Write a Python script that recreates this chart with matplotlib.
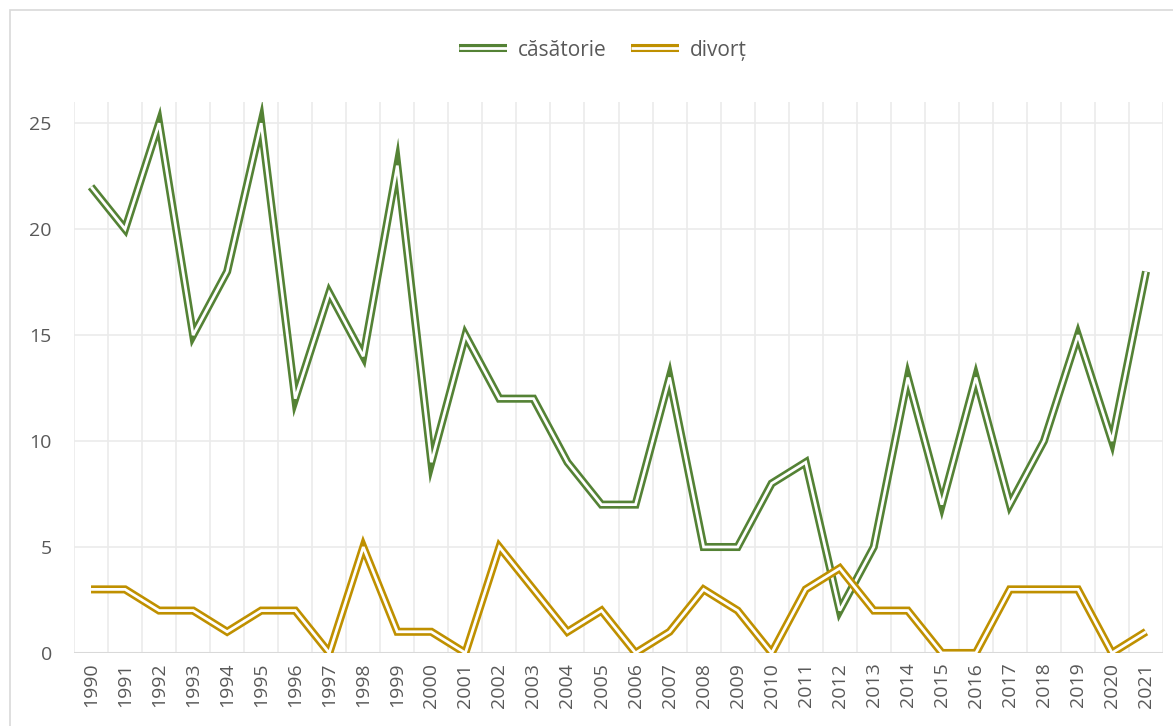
import matplotlib.pyplot as plt
from matplotlib.patches import Rectangle

years = [str(y) for y in range(1990, 2022)]
casatorie = [22, 20, 25, 15, 18, 25, 12, 17, 14, 23, 9, 15, 12, 12, 9, 7,
             7, 13, 5, 5, 8, 9, 2, 5, 13, 7, 13, 7, 10, 15, 10, 18]
divort = [3, 3, 2, 2, 1, 2, 2, 0, 5, 1, 1, 0, 5, 3, 1, 2,
          0, 1, 3, 2, 0, 3, 4, 2, 2, 0, 0, 3, 3, 3, 0, 1]

green = "#548235"
gold = "#BF9000"
txt = "#595959"

plt.rcParams["font.family"] = ["Open Sans", "DejaVu Sans"]

fig = plt.figure(figsize=(11.73, 7.26), dpi=100)
ax = fig.add_axes([0.0631, 0.1006, 0.9284, 0.7589])

x = list(range(len(years)))
handles = []
for vals, col, name in [(casatorie, green, "căsătorie"), (divort, gold, "divorț")]:
    # double line: thick coloured stroke with a thin white stroke on top
    outer, = ax.plot(x, vals, color=col, lw=5.8, solid_joinstyle="miter",
                     solid_capstyle="butt", zorder=3)
    inner, = ax.plot(x, vals, color="white", lw=2.0, solid_joinstyle="miter",
                     solid_capstyle="butt", zorder=3)
    handles.append(((outer, inner), name))

ax.set_xlim(-0.5, len(years) - 0.5)
ax.set_ylim(0, 26)
ax.set_yticks([0, 5, 10, 15, 20, 25])
ax.set_xticks(x)
ax.set_xticklabels(years, rotation=90)

# gridlines between categories, like Excel
for b in range(len(years) + 1):
    ax.axvline(b - 0.5, color="#EBEBEB", lw=1.2, zorder=1)
for v in [5, 10, 15, 20, 25]:
    ax.axhline(v, color="#EBEBEB", lw=1.2, zorder=1)
ax.axhline(0, color="#D9D9D9", lw=1.5, zorder=2)

for s in ax.spines.values():
    s.set_visible(False)
ax.tick_params(axis="both", length=0, colors=txt, labelsize=14)
ax.tick_params(axis="y", pad=16)
ax.tick_params(axis="x", pad=7)

fig.legend([h for h, _ in handles], [n for _, n in handles],
           loc="center", bbox_to_anchor=(0.514, 0.931), ncol=2, frameon=False,
           fontsize=15, labelcolor=txt, handlelength=2.3, columnspacing=1.2,
           handletextpad=0.5)

fig.patches.append(Rectangle((10 / 1173, -0.1), 1.2, 1 - 10 / 726 + 0.1,
                             transform=fig.transFigure, fill=False,
                             edgecolor="#D9D9D9", lw=1.2))

fig.savefig("out.png", dpi=100)
